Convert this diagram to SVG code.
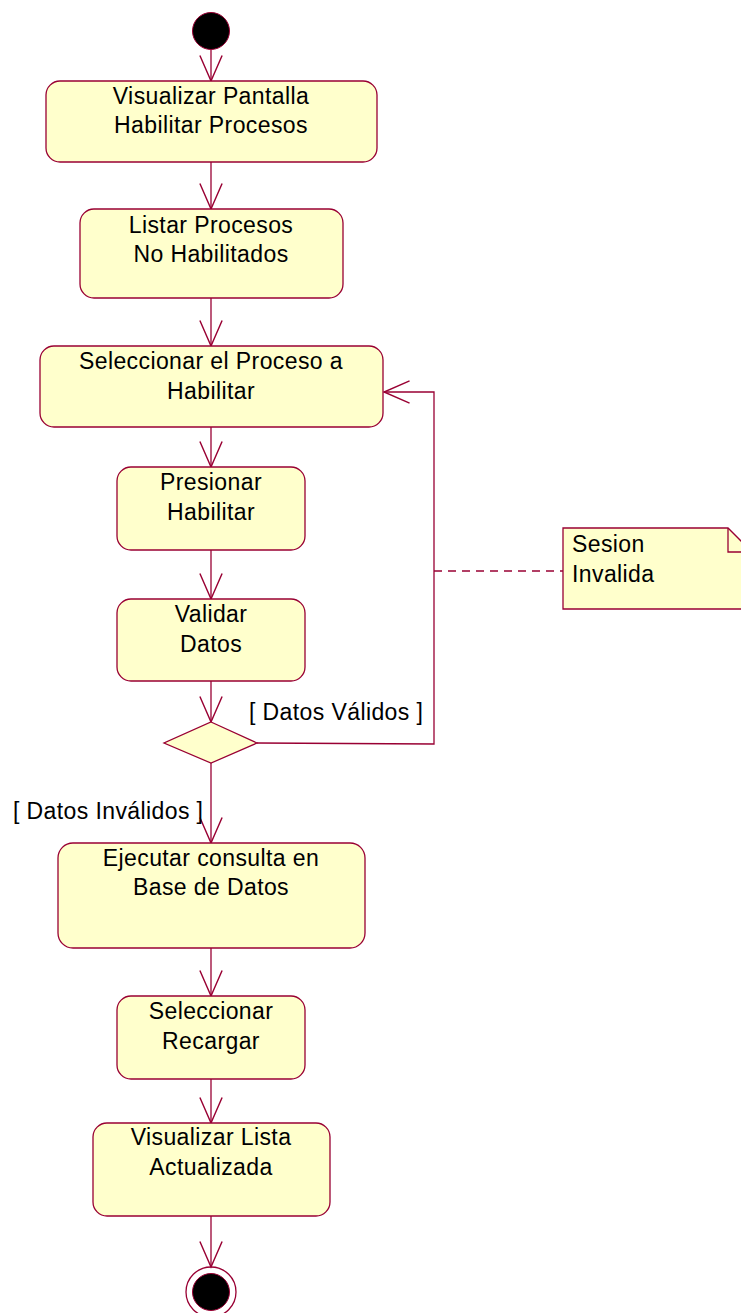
<svg xmlns="http://www.w3.org/2000/svg" width="741" height="1313" viewBox="0 0 741 1313">
<style>
.node{fill:#FFFFCC;stroke:#990033;stroke-width:1.3}
.t{font-family:"Liberation Sans",Arial,sans-serif;font-size:23px;letter-spacing:0.4px;fill:#000;text-anchor:middle}
.tl{font-family:"Liberation Sans",Arial,sans-serif;font-size:23px;letter-spacing:0.4px;fill:#000}
.c{fill:none;stroke:#990033;stroke-width:1.3}
</style>
<defs>
<marker id="arr" markerUnits="userSpaceOnUse" markerWidth="30" markerHeight="30" viewBox="-25 -12 27 24" refX="0" refY="0" orient="auto">
<path d="M-23,-10 L0,0 L-23,10" fill="none" stroke="#990033" stroke-width="1.3"/>
</marker>
</defs>
<g id="connectors">
<line class="c" x1="211" y1="50" x2="211" y2="81" marker-end="url(#arr)"/>
<line class="c" x1="211" y1="162" x2="211" y2="209" marker-end="url(#arr)"/>
<line class="c" x1="211" y1="298" x2="211" y2="346" marker-end="url(#arr)"/>
<line class="c" x1="211" y1="427" x2="211" y2="467" marker-end="url(#arr)"/>
<line class="c" x1="211" y1="550" x2="211" y2="599" marker-end="url(#arr)"/>
<line class="c" x1="211" y1="681" x2="211" y2="722" marker-end="url(#arr)"/>
<line class="c" x1="211" y1="763" x2="211" y2="843" marker-end="url(#arr)"/>
<line class="c" x1="211" y1="948" x2="211" y2="996" marker-end="url(#arr)"/>
<line class="c" x1="211" y1="1079" x2="211" y2="1123" marker-end="url(#arr)"/>
<line class="c" x1="211" y1="1216" x2="211" y2="1267" marker-end="url(#arr)"/>
<polyline class="c" points="257,743 434,744 434,392 384,392" marker-end="url(#arr)"/>
<line class="c" x1="434" y1="571" x2="563" y2="571" stroke-dasharray="8,6"/>
<text class="tl" x="249" y="720">[ Datos Válidos ]</text>
<text class="tl" x="13" y="819">[ Datos Inválidos ]</text>
</g>
<g id="start"><circle cx="211" cy="31" r="18.5" fill="#000" stroke="#990033" stroke-width="1"/></g>
<g id="n1"><rect class="node" x="46" y="81" width="331" height="81" rx="14"/><text class="t" x="211" y="104">Visualizar Pantalla</text><text class="t" x="211" y="133">Habilitar Procesos</text></g>
<g id="n2"><rect class="node" x="80" y="209" width="263" height="89" rx="14"/><text class="t" x="211" y="233">Listar Procesos</text><text class="t" x="211" y="262">No Habilitados</text></g>
<g id="n3"><rect class="node" x="40" y="346" width="343" height="81" rx="14"/><text class="t" x="211" y="369">Seleccionar el Proceso a</text><text class="t" x="211" y="399">Habilitar</text></g>
<g id="n4"><rect class="node" x="117" y="467" width="188" height="83" rx="14"/><text class="t" x="211" y="490">Presionar</text><text class="t" x="211" y="520">Habilitar</text></g>
<g id="n5"><rect class="node" x="117" y="599" width="188" height="82" rx="14"/><text class="t" x="211" y="622">Validar</text><text class="t" x="211" y="652">Datos</text></g>
<g id="decision"><polygon class="node" points="211,722 257,743 211,763 164,743"/></g>
<g id="n6"><rect class="node" x="58" y="843" width="307" height="105" rx="15"/><text class="t" x="211" y="866">Ejecutar consulta en</text><text class="t" x="211" y="895">Base de Datos</text></g>
<g id="n7"><rect class="node" x="117" y="996" width="188" height="83" rx="14"/><text class="t" x="211" y="1019">Seleccionar</text><text class="t" x="211" y="1049">Recargar</text></g>
<g id="n8"><rect class="node" x="93" y="1123" width="237" height="93" rx="14"/><text class="t" x="211" y="1145">Visualizar Lista</text><text class="t" x="211" y="1175">Actualizada</text></g>
<g id="note"><path class="node" d="M563,528 L728,528 L752,552 L752,609 L563,609 Z"/><path class="c" d="M728,528 L728,552 L752,552"/><text class="tl" x="572" y="552">Sesion</text><text class="tl" x="572" y="582">Invalida</text></g>
<g id="end"><circle cx="211" cy="1292" r="25" fill="none" stroke="#990033" stroke-width="1.3"/><circle cx="211" cy="1292" r="18.5" fill="#000" stroke="#990033" stroke-width="1"/></g>
</svg>
